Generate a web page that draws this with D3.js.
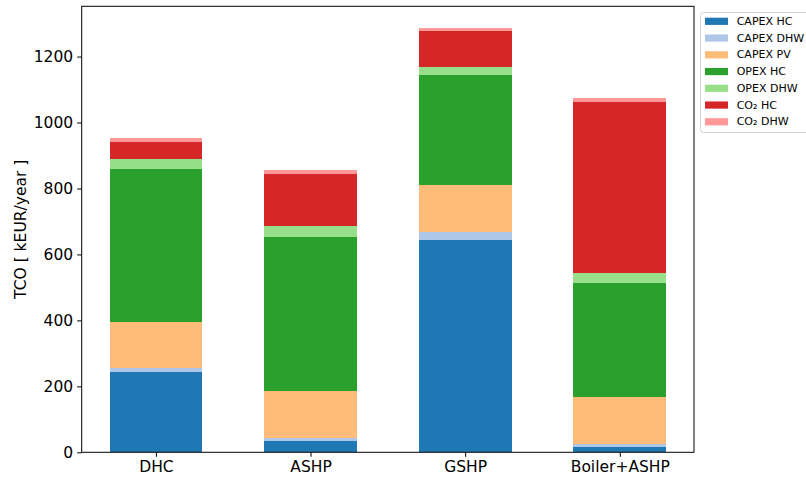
<!DOCTYPE html>
<html>
<head>
<meta charset="utf-8">
<script src="https://cdn.jsdelivr.net/npm/d3@7"></script>
<style>
  html, body { margin: 0; padding: 0; background: #fff; }
  svg { display: block; font-family: "DejaVu Sans", sans-serif; }
</style>
</head>
<body>
<svg id="chart" width="806" height="479"></svg>
<script>
// Systems compared (x axis)
const systems = ["DHC", "ASHP", "GSHP", "Boiler+ASHP"];

// Cost components, bottom to top of each stack
const components = ["CAPEX HC", "CAPEX DHW", "CAPEX PV", "OPEX HC", "OPEX DHW", "CO₂ HC", "CO₂ DHW"];
const componentColors = ["#1f77b4", "#aec7e8", "#ffbb78", "#2ca02c", "#98df8a", "#d62728", "#ff9896"];

// Values per component, in system order [kEUR/year]
const capexHC  = [244, 34, 644, 16];
const capexDHW = [12, 10, 24, 9];
const capexPV  = [140, 142, 143, 143];
const opexHC   = [464, 467, 334, 346];
const opexDHW  = [30, 33, 22, 30];
const co2HC    = [52, 158, 112, 518];
const co2DHW   = [12, 12, 9, 12];

const yTicks = [0, 200, 400, 600, 800, 1000, 1200];

const seriesValues = [capexHC, capexDHW, capexPV, opexHC, opexDHW, co2HC, co2DHW];
const rows = systems.map((s, i) => {
  const r = { system: s };
  components.forEach((c, k) => { r[c] = seriesValues[k][i]; });
  return r;
});

const svg = d3.select("#chart");
const plot = { left: 81.7, right: 694, top: 6.3, bottom: 452.3 };

const stacked = d3.stack().keys(components)(rows);
const maxTotal = d3.max(rows, r => d3.sum(components, c => r[c]));

// Linear x over category index, matching a 0.6 bar width with 5% margins
const x = d3.scaleLinear().domain([-0.48, systems.length - 1 + 0.48]).range([plot.left, plot.right]);
const y = d3.scaleLinear().domain([0, maxTotal * 1.05]).range([plot.bottom, plot.top]);
const barWidth = 0.6;

const color = d3.scaleOrdinal().domain(components).range(componentColors);

// Bars
svg.append("g").selectAll("g")
  .data(stacked)
  .join("g")
  .attr("fill", d => color(d.key))
  .selectAll("rect")
  .data(d => d)
  .join("rect")
  .attr("x", (d, i) => x(i - barWidth / 2))
  .attr("width", (d, i) => x(i + barWidth / 2) - x(i - barWidth / 2))
  .attr("y", d => y(d[1]))
  .attr("height", d => y(d[0]) - y(d[1]))
  .attr("shape-rendering", "crispEdges");

// Axes
const fontSize = 15.5;
const xAxis = d3.axisBottom(x)
  .tickValues(d3.range(systems.length))
  .tickFormat(i => systems[i])
  .tickSizeOuter(0)
  .tickSizeInner(4.5)
  .tickPadding(4);
const yAxis = d3.axisLeft(y)
  .tickValues(yTicks)
  .tickFormat(d3.format("d"))
  .tickSizeOuter(0)
  .tickSizeInner(4.5)
  .tickPadding(4);

const gx = svg.append("g").attr("transform", `translate(0,${plot.bottom})`).call(xAxis);
const gy = svg.append("g").attr("transform", `translate(${plot.left},0)`).call(yAxis);
[gx, gy].forEach(g => {
  g.select(".domain").remove();
  g.selectAll("text").attr("font-size", fontSize).attr("font-family", "DejaVu Sans").attr("fill", "#000");
  g.selectAll("line").attr("stroke", "#000").attr("stroke-width", 1);
});

// Frame
svg.append("rect")
  .attr("x", plot.left).attr("y", plot.top)
  .attr("width", plot.right - plot.left).attr("height", plot.bottom - plot.top)
  .attr("fill", "none").attr("stroke", "#000").attr("stroke-width", 1);

// Y axis label
svg.append("text")
  .attr("transform", `translate(21,${(plot.top + plot.bottom) / 2}) rotate(-90)`)
  .attr("text-anchor", "middle")
  .attr("dominant-baseline", "central")
  .attr("font-size", fontSize)
  .text("TCO [ kEUR/year ]");

// Legend
const legend = svg.append("g").attr("transform", "translate(700,12)");
legend.append("rect")
  .attr("x", 0.5).attr("y", 0.5).attr("rx", 3)
  .attr("width", 120).attr("height", 120)
  .attr("fill", "#fff").attr("fill-opacity", 0.8)
  .attr("stroke", "#d0d0d0").attr("stroke-width", 1);
const items = legend.selectAll("g.item")
  .data(components)
  .join("g")
  .attr("class", "item")
  .attr("transform", (d, i) => `translate(0,${9.3 + i * 16.75})`);
items.append("rect")
  .attr("x", 5).attr("y", -3.6).attr("width", 23).attr("height", 7.2)
  .attr("fill", d => color(d));
items.append("text")
  .attr("x", 36.7).attr("y", 0)
  .attr("dominant-baseline", "central")
  .attr("font-size", 11)
  .text(d => d);
</script>
</body>
</html>
